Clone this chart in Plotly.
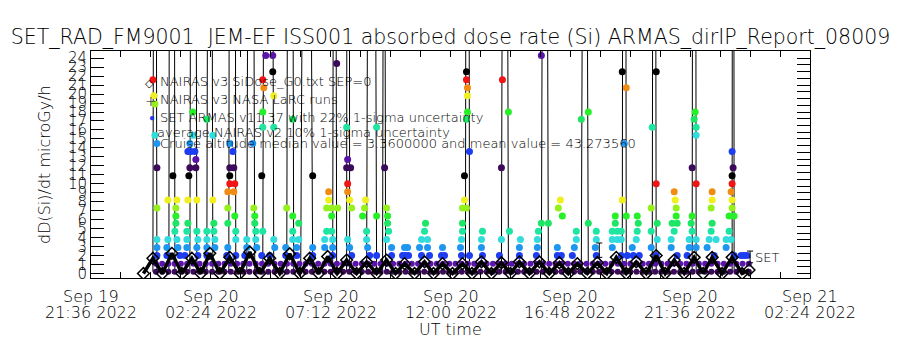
import plotly.graph_objects as go
import pandas as pd

START = pd.Timestamp("2022-09-19 21:36")
FONT = "DejaVu Sans"
FW = 300

# ---------------- data ----------------
# ARMAS dose-rate samples (hours after 2022-09-19 21:36 UT, microGy/h)
armas_hours = [
    2.48, 2.52, 2.56, 2.56, 2.64, 2.64, 2.64, 2.64, 2.64, 2.64,
    3.28, 3.08, 3.44, 3.40, 3.40, 3.40, 3.36, 3.08, 3.44, 3.04, 3.48, 3.04, 3.56,
    4.08, 4.08, 3.96, 3.88, 4.00, 4.16, 4.20, 3.96, 4.20, 3.92, 3.88, 4.24, 3.88, 3.84, 4.24, 3.84, 4.28, 3.84, 4.24, 3.76, 4.28,
    4.64, 4.88, 4.88, 4.92, 4.64, 4.92, 4.64, 4.96, 4.64, 4.96, 4.64,
    5.56, 5.68, 5.56, 5.72, 5.56, 5.56, 5.76, 5.48, 5.72, 5.48, 5.76, 5.48, 5.80, 5.80, 5.48, 5.44, 5.80,
    6.48, 6.52, 6.56, 6.56, 6.60, 6.88, 6.24, 6.60, 6.24, 6.64, 6.16, 6.84,
    6.88, 6.92, 7.28, 7.32, 6.88, 6.88, 7.32, 7.00, 7.28, 6.84, 7.32, 7.36, 7.16,
    8.08, 7.84, 8.08, 8.32, 8.08, 8.08, 8.32, 7.80, 8.24, 7.80, 8.24,
    8.88, 8.88, 8.88,
    9.52, 9.52, 9.44, 9.64, 9.88, 9.64, 9.44, 9.64, 9.36, 9.68, 9.36, 9.68, 9.68, 9.84,
    10.24, 10.28, 10.24, 10.40, 10.28, 10.28, 10.36, 10.44, 10.28, 10.36, 10.44,
    11.44, 11.00, 10.96, 10.88, 11.44, 11.04, 11.04, 11.08, 11.16, 11.44,
    11.76, 11.84, 11.88, 11.88, 11.92, 11.84, 12.04, 12.04,
    12.56, 12.68, 12.48, 12.60, 12.72,
    13.40, 13.36, 13.24, 13.48, 13.16, 13.48, 13.24, 13.56,
    14.08, 14.04, 14.16,
    15.04, 15.04, 15.08, 15.08, 15.08, 15.04, 15.16, 14.96, 14.96, 14.88, 15.04, 14.88, 14.88, 14.84, 14.80, 14.84, 15.16,
    15.68, 15.64, 15.64, 15.68,
    16.48, 16.72, 16.44, 16.44, 16.36, 16.76,
    17.20, 17.16, 17.16,
    18.04, 18.04, 17.92, 17.88, 17.88, 17.84, 18.32,
    18.80, 18.72, 18.88, 18.68, 18.68, 18.84,
    19.44, 19.44, 19.36, 19.28,
    19.64, 19.92, 19.92,
    20.24, 20.24, 20.20, 20.24,
    21.00, 21.00, 20.88, 21.08, 21.24, 20.88, 21.08, 21.24, 20.88, 21.24,
    21.28, 21.44, 21.36, 21.28, 21.44,
    21.88, 21.92, 21.88, 21.84, 21.68, 21.48, 21.72, 21.96,
    22.64, 22.48, 22.64, 22.44, 22.68, 22.44, 22.68, 22.44, 22.64,
    23.36, 23.40, 23.44, 23.44, 23.28, 23.48, 23.36, 23.24, 23.24, 23.48,
    24.20, 24.16, 24.24, 24.24, 24.08, 24.24, 24.08, 24.04, 24.08, 23.96, 24.24, 23.96, 24.24, 23.88,
    24.88, 24.88, 24.84, 24.88, 24.84, 24.76, 25.04, 24.68, 24.96,
    25.68, 25.72, 25.68, 25.68, 25.64, 25.68, 25.68, 25.56, 25.76, 25.56, 25.44, 25.64, 25.44, 25.76,
    26.04, 26.16, 26.28,
]
armas_dose = [
    21.6, 19.8, 18.9, 15.4, 14.5, 11.8, 7.3, 3.8, 2.9, 2.0,
    10.9, 8.2, 8.2, 7.3, 6.4, 5.6, 4.7, 3.8, 3.8, 2.9, 2.9, 2.0, 2.0,
    18.0, 15.4, 14.5, 13.6, 13.6, 13.6, 12.7, 11.8, 11.8, 10.9, 8.2, 8.2, 5.6, 4.7, 4.7, 3.8, 3.8, 2.9, 2.9, 2.0, 2.0,
    17.2, 15.4, 8.2, 5.6, 4.7, 4.7, 3.8, 3.8, 2.9, 2.9, 2.0,
    14.5, 13.6, 11.8, 11.8, 10.9, 10.0, 10.0, 9.1, 9.1, 7.3, 6.4, 5.6, 4.7, 3.8, 2.9, 2.0, 2.0,
    14.5, 7.3, 6.4, 5.6, 4.7, 4.7, 3.8, 3.8, 2.9, 2.9, 2.0, 2.0,
    21.6, 20.7, 22.5, 19.8, 18.0, 16.3, 16.3, 24.3, 24.3, 10.9, 3.8, 2.9, 2.0,
    17.2, 7.3, 6.4, 5.6, 4.7, 3.8, 3.8, 2.9, 2.9, 2.0, 2.0,
    10.9, 2.9, 2.0,
    9.1, 8.2, 7.3, 7.3, 7.3, 6.4, 4.7, 4.7, 3.8, 3.8, 2.9, 2.9, 2.0, 23.4,
    16.3, 12.7, 11.8, 11.8, 10.0, 9.1, 8.2, 7.3, 3.8, 2.9, 2.0,
    16.3, 8.2, 7.3, 6.4, 6.4, 4.7, 3.8, 2.9, 2.0, 2.0,
    11.8, 7.3, 6.4, 5.6, 4.7, 3.8, 2.9, 2.0,
    2.9, 2.9, 2.0, 2.0, 2.0,
    5.6, 4.7, 3.8, 3.8, 2.9, 2.9, 2.0, 2.0,
    2.9, 2.0, 2.0,
    22.5, 21.6, 20.7, 19.8, 18.0, 17.2, 13.6, 10.9, 8.2, 7.3, 7.3, 5.6, 4.7, 3.8, 2.9, 2.0, 2.0,
    4.7, 3.8, 2.9, 2.0,
    21.6, 18.0, 11.8, 3.8, 2.0, 4.7,
    3.8, 2.9, 2.0,
    24.3, 5.6, 4.7, 3.8, 2.9, 2.0, 5.6,
    8.2, 7.3, 6.4, 2.9, 2.0, 2.0,
    4.7, 3.8, 2.9, 2.0,
    17.2, 18.0, 5.6,
    4.7, 3.8, 2.9, 2.0,
    6.4, 5.6, 4.7, 4.7, 4.7, 3.8, 3.8, 3.8, 2.9, 2.0,
    22.5, 20.7, 14.5, 8.2, 6.4,
    6.4, 5.6, 4.7, 3.8, 2.9, 2.0, 2.0, 2.0,
    22.5, 16.3, 10.0, 7.3, 5.6, 4.7, 3.8, 2.9, 2.0,
    9.1, 8.2, 7.3, 6.4, 5.6, 5.6, 4.7, 3.8, 2.9, 2.0,
    18.0, 17.2, 16.3, 15.4, 11.8, 10.0, 6.4, 5.6, 4.7, 3.8, 3.8, 2.9, 2.9, 2.0,
    9.1, 8.2, 7.3, 5.6, 4.7, 3.8, 3.8, 2.9, 2.0,
    13.6, 11.8, 10.9, 10.0, 9.1, 8.2, 7.3, 6.4, 6.4, 4.7, 3.8, 3.8, 2.9, 2.0,
    2.0, 2.0, 2.0,
]
assert len(armas_hours) == len(armas_dose)

# ARMAS off-scale spikes (start, peak, end times in hours; peak dose)
spike_up_hours = [2.48, 3.12, 3.96, 4.64, 5.52, 6.24, 6.88, 7.84, 8.40, 9.68, 10.24,
                  11.04, 11.68, 15.00, 16.44, 18.04, 19.64, 21.28, 22.48, 24.08, 25.68]
spike_peak_hours = [2.56, 3.24, 4.10, 4.76, 5.66, 6.40, 7.10, 7.98, 8.64, 9.76, 10.30,
                    11.24, 11.74, 15.08, 16.58, 18.18, 19.78, 21.36, 22.56, 24.16, 25.72]
spike_down_hours = [2.64, 3.36, 4.24, 4.88, 5.80, 6.56, 7.32, 8.12, 8.88, 9.84, 10.36,
                    11.44, 11.80, 15.16, 16.72, 18.32, 19.92, 21.44, 22.64, 24.24, 25.76]
spike_peak_dose = [120, 260, 180, 150, 300, 140, 220, 160, 130, 110, 240,
                   170, 90, 200, 150, 130, 110, 180, 140, 210, 160]
spike_base_dose = 0.2

# ARMAS low-dose background readings at 15-min cadence from 00:12 UT Sep 20
bg_low_dose = [
    0.2, 0.2, 0.2, 0.2, 0.2, 0.2, 0.2, 0.2, 0.2, 0.2, 0.2, 0.2,
    0.2, 0.2, 0.2, 0.2, 0.2, 0.2, 0.2, 0.2, 0.2, 0.2, 0.2, 0.2,
    0.2, 0.2, 0.2, 0.2, 0.2, 0.2, 0.2, 0.2, 0.2, 0.2, 0.2, 0.2,
    0.2, 0.2, 0.2, 0.2, 0.2, 0.2, 0.2, 0.2, 0.2, 0.2, 0.2, 0.2,
    0.2, 0.2, 0.2, 0.2, 0.2, 0.2, 0.2, 0.2, 0.2, 0.2, 0.2, 0.2,
    0.2, 0.2, 0.2, 0.2, 0.2, 0.2, 0.2, 0.2, 0.2, 0.2, 0.2, 0.2,
    0.2, 0.2, 0.2, 0.2, 0.2, 0.2, 0.2, 0.2, 0.2, 0.2, 0.2, 0.2,
    0.2, 0.2, 0.2, 0.2, 0.2, 0.2, 0.2, 0.2, 0.2, 0.2, 0.2, 0.2,
]
bg_mid_dose = [
    1.1, 1.1, 1.1, 1.1, 1.1, 1.1, 1.1, 1.1, 1.1, 1.1, 1.1, 1.1,
    1.1, 1.1, 1.1, 1.1, 1.1, 1.1, 1.1, 1.1, 1.1, 1.1, 1.1, 1.1,
    1.1, 1.1, 1.1, 1.1, 1.1, 1.1, 1.1, 1.1, 1.1, 1.1, 1.1, 1.1,
    1.1, 1.1, 1.1, 1.1, 1.1, 1.1, 1.1, 1.1, 1.1, 1.1, 1.1, 1.1,
    1.1, 1.1, 1.1, 1.1, 1.1, 1.1, 1.1, 1.1, 1.1, 1.1, 1.1, 1.1,
    1.1, 1.1, 1.1, 1.1, 1.1, 1.1, 1.1, 1.1, 1.1, 1.1, 1.1, 1.1,
    1.1, 1.1, 1.1, 1.1, 1.1, 1.1, 1.1, 1.1, 1.1, 1.1, 1.1, 1.1,
    1.1, 1.1, 1.1, 1.1, 1.1, 1.1, 1.1, 1.1, 1.1, 1.1, 1.1, 1.1,
]
bg_start = "2022-09-20 00:12"

# NAIRAS v3 SiDose (orbit-modulated)
nairas_hours = [
    2.10, 2.48, 2.86, 3.24, 3.64, 4.04, 4.40, 4.76, 5.16, 5.56, 5.96, 6.36,
    6.76, 7.16, 7.56, 7.96, 8.36, 8.76, 9.12, 9.48, 9.86, 10.24, 10.64, 11.04,
    11.44, 11.84, 12.20, 12.56, 12.96, 13.36, 13.72, 14.08, 14.48, 14.88, 15.26, 15.64,
    16.04, 16.44, 16.80, 17.16, 17.56, 17.96, 18.36, 18.76, 19.12, 19.48, 19.88, 20.28,
    20.66, 21.04, 21.44, 21.84, 22.24, 22.64, 23.00, 23.36, 23.76, 24.16, 24.52, 24.88,
    25.28, 25.68, 26.08, 26.36,
]
nairas_dose = [
    0.0, 1.7, 0.0, 2.25, 0.0, 1.7, 0.0, 2.25, 0.0, 1.8, 0.0, 2.4,
    0.0, 1.7, 0.0, 2.2, 0.0, 1.7, 0.0, 1.9, 0.0, 1.5, 0.0, 1.3,
    0.0, 1.5, 0.0, 1.1, 0.0, 1.3, 0.0, 1.1, 0.0, 1.1, 0.0, 1.3,
    0.0, 1.2, 0.0, 1.3, 0.0, 1.3, 0.0, 1.2, 0.0, 1.1, 0.0, 1.2,
    0.0, 1.8, 0.0, 1.3, 0.0, 2.0, 0.0, 1.5, 0.0, 1.8, 0.0, 1.8,
    0.0, 1.8, 0.0, 0.4,
]

# representative uncertainty bars
errbar_hours = [20.36, 26.40]
errbar_dose = [2.6, 1.85]
errbar_size = [0.8, 0.65]

# x tick labels
xtick_hours = [0.0, 4.8, 9.6, 14.4, 19.2, 24.0, 28.8]
xtick_line1 = ["Sep 19", "Sep 20", "Sep 20", "Sep 20", "Sep 20", "Sep 20", "Sep 21"]
xtick_line2 = ["21:36 2022", "02:24 2022", "07:12 2022", "12:00 2022",
               "16:48 2022", "21:36 2022", "02:24 2022"]

legend_lines = [
    "NAIRAS v3 SiDose_G0.txt SEP=0",
    "NAIRAS v3 NASA LaRC runs",
    "SET ARMAS v11.37 with 22% 1-sigma uncertainty",
    "average NAIRAS v2 10% 1-sigma uncertainty",
    "Cruise altitude median value = 3.3600000 and mean value = 43.273560",
]

# ---------------- styling helpers ----------------
PALETTE = ["#3c0a5a", "#5a14aa", "#1e3cf0", "#1e96f0", "#32dcdc", "#1ee6a0", "#1ee664",
           "#28f028", "#96f01e", "#f0f01e", "#f08c14", "#f01414", "#000000"]
STEP = 0.8923


def to_time(hours):
    return [START + pd.Timedelta(hours=h) for h in hours]


def dose_color(v):
    return PALETTE[int(round((v - 0.2) / STEP)) % 13]


X0 = START
X1 = START + pd.Timedelta(hours=28.8)
YR = [-0.5, 24.8]
L, R, T, B = 91, 90, 51, 72
PW, PH = 900 - L - R, 350 - T - B


def px(xpix):
    return (xpix - L) / PW


def py(ypix):
    return (350 - B - ypix) / PH


def f(size, color="black"):
    return dict(family=FONT, size=size, color=color, weight=FW)


fig = go.Figure()

# spike line
sx, sy = [], []
for u, p, d, v in zip(spike_up_hours, spike_peak_hours, spike_down_hours, spike_peak_dose):
    sx += [u, p, d]
    sy += [spike_base_dose, v, spike_base_dose]
fig.add_trace(go.Scatter(x=to_time(sx), y=sy, mode="lines",
                         line=dict(color="black", width=1), hoverinfo="skip"))

# background
bg_times = pd.date_range(bg_start, periods=len(bg_low_dose), freq="15min")
for arr in (bg_low_dose, bg_mid_dose):
    fig.add_trace(go.Scatter(x=bg_times, y=arr, mode="markers",
                             marker=dict(symbol="circle", size=6,
                                         color=[dose_color(v) for v in arr]),
                             hoverinfo="skip"))

# ARMAS dots
fig.add_trace(go.Scatter(x=to_time(armas_hours), y=armas_dose, mode="markers",
                         marker=dict(symbol="circle", size=7,
                                     color=[dose_color(v) for v in armas_dose])))

# NAIRAS
fig.add_trace(go.Scatter(x=to_time(nairas_hours), y=nairas_dose, mode="lines+markers",
                         line=dict(color="black", width=3.5),
                         marker=dict(symbol="diamond-open", size=9, color="black",
                                     line=dict(width=1.5))))

# error bars
fig.add_trace(go.Scatter(x=to_time(errbar_hours), y=errbar_dose, mode="markers",
                         marker=dict(size=1, color="black"),
                         error_y=dict(type="data", array=errbar_size, color="black",
                                      thickness=1, width=3)))

# dummy trace for right axis
fig.add_trace(go.Scatter(x=[X0], y=[0], yaxis="y2", mode="markers",
                         marker=dict(size=1, color="rgba(0,0,0,0)"), hoverinfo="skip"))

ann = []
for h, t1, t2 in zip(xtick_hours, xtick_line1, xtick_line2):
    tt = START + pd.Timedelta(hours=h)
    ann.append(dict(x=tt, xref="x", y=py(296), yref="paper", text=t1, showarrow=False,
                    xanchor="center", yanchor="middle", font=f(16)))
    ann.append(dict(x=tt, xref="x", y=py(312), yref="paper", text=t2, showarrow=False,
                    xanchor="center", yanchor="middle", font=f(16)))
ann.append(dict(x=0.5, xref="paper", y=py(329), yref="paper", text="UT time", showarrow=False,
                xanchor="center", yanchor="middle", font=f(16)))
ann.append(dict(x=px(44), xref="paper", y=py(165), yref="paper", text="dD(Si)/dt microGy/h",
                textangle=-90, showarrow=False, xanchor="center", yanchor="middle",
                font=f(16)))

leg_y = [81, 99, 118, 132, 143]
leg_x = [158, 158, 158, 155, 158]
for txt, xx, yy in zip(legend_lines, leg_x, leg_y):
    ann.append(dict(x=px(xx), xref="paper", y=py(yy), yref="paper", text=txt, showarrow=False,
                    xanchor="left", yanchor="middle", font=f(13)))
for sym, col, xx, yy, fs in [("◇", "black", 149, 83, 11), ("+", "black", 151, 101, 14),
                             ("●", "#1e3cf0", 152, 117, 10)]:
    ann.append(dict(x=px(xx), xref="paper", y=py(yy), yref="paper", text=sym, showarrow=False,
                    xanchor="center", yanchor="middle", font=f(fs, col)))
ann.append(dict(x=px(753), xref="paper", y=py(257), yref="paper", text="SET", showarrow=False,
                xanchor="left", yanchor="middle", font=f(13)))

axis_common = dict(showgrid=False, zeroline=False, showline=True, linecolor="black",
                   linewidth=1)

fig.update_layout(
    width=900, height=350,
    margin=dict(l=L, r=R, t=T, b=B),
    paper_bgcolor="white", plot_bgcolor="white",
    showlegend=False,
    title=dict(text="SET_RAD_FM9001  JEM-EF ISS001 absorbed dose rate (Si) ARMAS_dirIP_Report_08009",
               x=0.5, xref="paper", xanchor="center", y=1 - 37 / 350, yanchor="middle",
               font=f(20.5)),
    xaxis=dict(type="date", range=[X0, X1], tick0=X0, dtick=4.8 * 3600 * 1000,
               ticks="inside", ticklen=6, tickcolor="black", mirror="allticks",
               showticklabels=False,
               minor=dict(dtick=1.2 * 3600 * 1000, tick0=X0, ticks="inside", ticklen=4,
                          tickcolor="black", showgrid=False),
               **axis_common),
    yaxis=dict(range=YR, tick0=0, dtick=1, ticks="inside", ticklen=13, tickcolor="black",
               tickfont=f(15), **axis_common),
    yaxis2=dict(range=YR, overlaying="y", side="right", tick0=0, dtick=0.75,
                ticks="inside", ticklen=13, tickcolor="black", showticklabels=False,
                **axis_common),
    annotations=ann,
    font=dict(family=FONT, color="black"),
)

fig.write_html("out.html")
